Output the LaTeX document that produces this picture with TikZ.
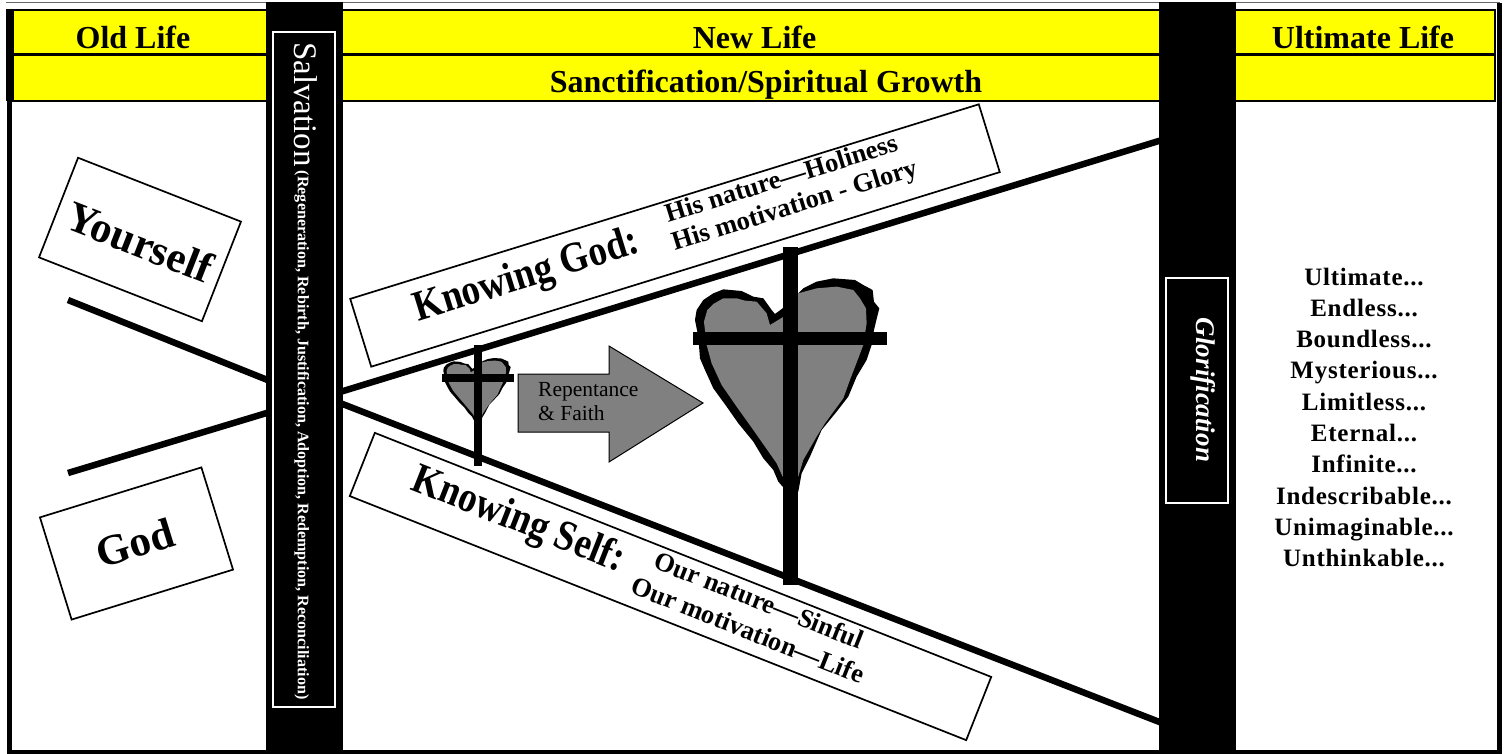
\documentclass[tikz,border=0pt]{standalone}
\usepackage{fontspec}
\setmainfont{Liberation Serif}
\usetikzlibrary{positioning}
\definecolor{bandyellow}{RGB}{255,255,0}
\definecolor{heartgray}{RGB}{128,128,128}
% heart outline, in units of a 3x crop
\newcommand{\heartouter}{(1088,235) -- (1065,252) -- (1055,240) -- (1030,205) -- (1000,200) -- (965,183) -- (910,178) -- (880,190) -- (850,210) -- (830,240) -- (825,270) -- (835,320) -- (840,385) -- (855,420) -- (880,475) -- (920,530) -- (955,580) -- (1000,635) -- (1030,685) -- (1060,720) -- (1075,755) -- (1088,770) -- (1135,785) -- (1145,730) -- (1170,680) -- (1205,600) -- (1250,545) -- (1285,500) -- (1310,440) -- (1340,390) -- (1355,345) -- (1362,300) -- (1378,235) -- (1362,215) -- (1358,180) -- (1330,165) -- (1305,150) -- (1240,145) -- (1190,155) -- (1150,175) -- (1135,190) -- cycle}
\newcommand{\heartinner}{(1050,285) -- (1040,250) -- (1010,215) -- (975,212) -- (950,205) -- (910,205) -- (880,222) -- (862,240) -- (852,275) -- (860,345) -- (875,400) -- (905,465) -- (950,530) -- (1000,600) -- (1035,650) -- (1070,700) -- (1088,740) -- (1135,740) -- (1150,690) -- (1190,620) -- (1215,580) -- (1270,505) -- (1290,450) -- (1315,385) -- (1330,345) -- (1340,280) -- (1338,235) -- (1320,205) -- (1300,180) -- (1250,170) -- (1190,175) -- (1135,190) -- (1088,262) -- cycle}
\begin{document}
\begin{tikzpicture}[x=1pt,y=-1pt,
		band/.style={rectangle, draw=black, line width=2pt, fill=bandyellow, inner sep=0pt},
		title/.style={font=\fontsize{32}{34}\selectfont\bfseries, inner sep=0pt},
		bar/.style={rectangle, fill=black, minimum width=77pt, inner sep=0pt},
		barbox/.style={rectangle, draw=white, line width=1.5pt, fill=black, minimum width=62pt, inner sep=0pt},
		label/.style={rectangle, draw=black, line width=1.7pt, fill=white, inner sep=0pt},
		bigtext/.style={font=\fontsize{43}{45}\selectfont\bfseries, inner sep=0pt},
		midtext/.style={font=\fontsize{43}{45}\selectfont\bfseries, inner sep=0pt, xscale=0.86},
		smalltext/.style={font=\fontsize{26.5}{30}\selectfont\bfseries, inner sep=0pt},
		path/.style={line width=6.5pt},
		word/.style={font=\addfontfeature{LetterSpace=3}\fontsize{25}{27}\selectfont\bfseries, inner sep=0pt, text height=18pt, text depth=5pt}
	]
	\useasboundingbox (0,0) rectangle (1507,754);
	% frame
	\fill[white] (0,0) rectangle (1507,754);
	\draw[black!60, line width=1pt] (6,2.5) -- (1500,2.5);
	\draw[black, line width=5pt] (9.5,9) -- (9.5,752) -- (1499.5,752) -- (1499.5,3);

	% bands
	\node[band, minimum width=1482pt, minimum height=44pt] (top) at (753.5,32.5) {};
	\node[band, minimum width=1482pt, minimum height=46pt] (sub) at (753.5,78) {};
	\fill[black] (6,9) rectangle (12,101);

	% lines of the two lives
	\coordinate (selfstart) at (68,300);
	\coordinate (godstart) at (68,473);
	\coordinate (godmid) at (340,392);
	\coordinate (selfmid) at (340,403);
	\coordinate (godend) at (1162,140);
	\coordinate (selfend) at (1162,723);
	\draw[path] (selfstart) -- (270,381);
	\draw[path] (godstart) -- (270,412);
	\draw[path] (godmid) -- (godend);
	\draw[path] (selfmid) -- (selfend);

	% columns
	\node[bar, minimum height=752pt] (salvbar) at (304.5,378) {};
	\node[bar, minimum height=752pt] (glorbar) at (1197.5,378) {};
	\node[barbox, minimum height=675pt] (salv) at (304,369.5) {};
	\node[barbox, minimum height=225pt] (glor) at (1197,390.5) {};
	\node[rotate=-90, text=white, inner sep=0pt, anchor=west] (salvtext) at (306,42) {\fontsize{33}{35}\selectfont Salvation\hspace{4pt}\fontsize{16.1}{18}\selectfont\bfseries\raisebox{3pt}{(Regeneration, Rebirth, Justification, Adoption, Redemption, Reconciliation)}};
	\node[rotate=-90, text=white, inner sep=0pt, font=\fontsize{27}{29}\selectfont\bfseries\itshape] (glortext) at (1203,390) {Glorification};

	% titles
	\node[title] (old) at (133,37) {Old Life};
	\node[title] (new) at (754.5,37) {New Life};
	\node[title] (ultimate) at (1363,37.5) {Ultimate Life};
	\node[title] (growth) at (766,85) {Sanctification/Spiritual Growth};

	% left boxes
	\node[label, rotate=-21.4, minimum width=175pt, minimum height=107pt] (yourselfbox) at (140,239.5) {};
	\node[bigtext, rotate=-21.4] (yourself) at (140,242) {Yourself};
	\node[label, rotate=17.2, minimum width=169pt, minimum height=107pt] (godbox) at (136.5,543.5) {};
	\node[bigtext, rotate=17.2] (god) at (135,543) {God};

	% knowing boxes
	\node[label, rotate=17.2, minimum width=658pt, minimum height=71pt] (knowgodbox) at (675,235.5) {};
	\node[rotate=17.2, midtext] (knowgod) at (527,277) {Knowing God:};
	\node[smalltext, rotate=17.2] (hisnature) at (781,178) {His nature—Holiness};
	\node[smalltext, rotate=17.2] (hismotive) at (795,207) {His motivation - Glory};
	\node[label, rotate=-21.6, minimum width=663pt, minimum height=68pt] (knowselfbox) at (670.5,586.5) {};
	\node[rotate=-21.6, midtext] (knowself) at (518,521) {Knowing Self:};
	\node[smalltext, rotate=-21.6] (ournature) at (759,600) {Our nature—Sinful};
	\node[smalltext, rotate=-21.6] (ourmotive) at (748,630) {Our motivation—Life};

	% small heart
	\begin{scope}[shift={(342.7,343.3)},x=0.1219pt,y=-0.1016pt]
		\fill[black] \heartouter;
		\fill[heartgray] \heartinner;
	\end{scope}
	\fill[black] (474,345) rectangle (482,466);
	\fill[black] (442,374) rectangle (514,382);

	% arrow
	\draw[fill=heartgray, line width=1pt] (518,374) -- (609,374) -- (609,346) -- (703,403) -- (609,462) -- (609,432) -- (518,432) -- cycle;
	\node[align=left, anchor=west, inner sep=0pt, font=\fontsize{21.5}{24}\selectfont] (repent) at (538,402) {Repentance\\\& Faith};

	% big heart
	\begin{scope}[shift={(420,230)},x=0.3333pt,y=-0.3333pt]
		\fill[black] \heartouter;
		\fill[heartgray] \heartinner;
	\end{scope}
	\fill[black] (783,247) rectangle (798,585);
	\fill[black] (693,332) rectangle (887,345);

	% list of words
	\node[word] (w1) at (1364,278.5) {Ultimate...};
	\node[word, below=7.9pt of w1] (w2) {Endless...};
	\node[word, below=7.9pt of w2] (w3) {Boundless...};
	\node[word, below=7.9pt of w3] (w4) {Mysterious...};
	\node[word, below=7.9pt of w4] (w5) {Limitless...};
	\node[word, below=7.9pt of w5] (w6) {Eternal...};
	\node[word, below=7.9pt of w6] (w7) {Infinite...};
	\node[word, below=7.9pt of w7] (w8) {Indescribable...};
	\node[word, below=7.9pt of w8] (w9) {Unimaginable...};
	\node[word, below=7.9pt of w9] (w10) {Unthinkable...};
\end{tikzpicture}
\end{document}
